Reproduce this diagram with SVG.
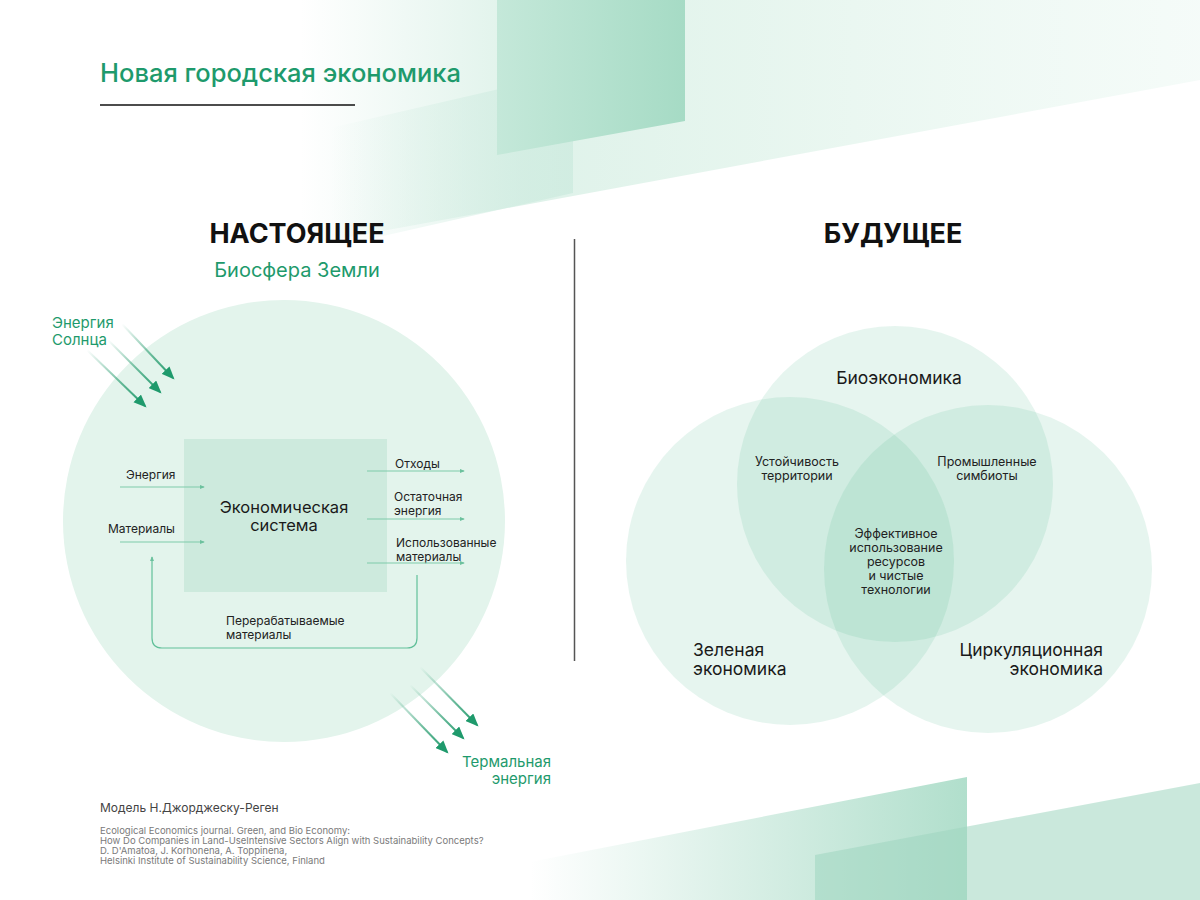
<svg xmlns="http://www.w3.org/2000/svg" width="1200" height="900" viewBox="0 0 1200 900">
<defs>
<style>
text { font-family: Inter, "Open Sans", "Noto Sans", sans-serif; }
.green { fill: #1e9a6c; }
.lbl { font-size: 12px; fill: #222; }
.venn { font-size: 12.5px; fill: #222; text-anchor: middle; }
.big { font-size: 17.5px; fill: #1a1a1a; }
.head { font-size: 27px; font-weight: 700; fill: #111; text-anchor: middle; }
.cite { font-size: 9.5px; fill: #7a7a7a; }
.thin { stroke: #7fcbaa; stroke-width: 1; fill: none; marker-end: url(#small); }
.ray { stroke: url(#fade); stroke-width: 2; fill: none; marker-end: url(#head); }
.vc { fill: #3fb384; fill-opacity: 0.13; }
</style>
<linearGradient id="fade" x1="0" y1="0" x2="1" y2="1">
<stop offset="0" stop-color="#2a9d70" stop-opacity="0"/>
<stop offset="0.6" stop-color="#2a9d70" stop-opacity="0.7"/>
<stop offset="1" stop-color="#1f9a6c" stop-opacity="1"/>
</linearGradient>
<linearGradient id="gTop" gradientUnits="userSpaceOnUse" x1="300" y1="0" x2="1200" y2="0">
<stop offset="0" stop-color="#d9f0e6" stop-opacity="0"/>
<stop offset="0.25" stop-color="#d9f0e6" stop-opacity="0.85"/>
<stop offset="0.5" stop-color="#e0f3ea" stop-opacity="0.8"/>
<stop offset="1" stop-color="#e6f6ef" stop-opacity="0.4"/>
</linearGradient>
<linearGradient id="gP3" gradientUnits="userSpaceOnUse" x1="330" y1="0" x2="573" y2="0">
<stop offset="0" stop-color="#cdebdf" stop-opacity="0"/>
<stop offset="1" stop-color="#cdebdf" stop-opacity="0.8"/>
</linearGradient>
<linearGradient id="gP2" gradientUnits="userSpaceOnUse" x1="497" y1="0" x2="685" y2="0">
<stop offset="0" stop-color="#c4e8d9"/>
<stop offset="1" stop-color="#a6dbc5"/>
</linearGradient>
<linearGradient id="gB1" gradientUnits="userSpaceOnUse" x1="530" y1="0" x2="967" y2="0">
<stop offset="0" stop-color="#a3d9c3" stop-opacity="0"/>
<stop offset="1" stop-color="#a3d9c3" stop-opacity="0.85"/>
</linearGradient>
<marker id="head" viewBox="0 0 12 10" refX="10" refY="5" markerWidth="13" markerHeight="11" markerUnits="userSpaceOnUse" orient="auto">
<path d="M0,0 L12,5 L0,10 Z" fill="#1f9a6c"/>
</marker>
<marker id="small" viewBox="0 0 6 6" refX="5" refY="3" markerWidth="5" markerHeight="5" markerUnits="userSpaceOnUse" orient="auto">
<path d="M0,0.5 L6,3 L0,5.5 Z" fill="#6cc19d"/>
</marker>
</defs>

<g id="background">
<rect width="1200" height="900" fill="#ffffff"/>
<polygon points="300,0 1200,0 1200,80 497,210 300,246" fill="url(#gTop)"/>
<polygon points="330,128 573,72 573,193 330,248" fill="url(#gP3)"/>
<polygon points="497,0 685,0 685,121 497,155" fill="url(#gP2)"/>
<polygon points="967,777 967,900 530,900 530,862" fill="url(#gB1)"/>
<polygon points="815,855 1200,783 1200,900 815,900" fill="#9ed6c0" fill-opacity="0.55"/>
</g>

<g id="title">
<text x="100" y="82" class="green" style="font-size:25.5px;font-weight:500">Новая городская экономика</text>
<line x1="100" y1="105" x2="355" y2="105" stroke="#111" stroke-width="1.5"/>
</g>

<line id="divider" x1="574.5" y1="239" x2="574.5" y2="661" stroke="#555" stroke-width="1.5"/>

<g id="present-header">
<text x="297" y="243" class="head">НАСТОЯЩЕЕ</text>
<text x="297" y="277" class="green" text-anchor="middle" style="font-size:20px">Биосфера Земли</text>
</g>

<g id="biosphere">
<circle cx="284" cy="521" r="221" fill="#e3f4ec"/>
</g>

<g id="economic-system">
<rect x="184" y="439" width="203" height="153" fill="#cdeadd"/>
<text x="284" y="513" class="big" text-anchor="middle" style="font-size:16.5px">Экономическая</text>
<text x="284" y="531" class="big" text-anchor="middle" style="font-size:16.5px">система</text>
</g>

<g id="labels-in">
<text x="126" y="479" class="lbl">Энергия</text>
<text x="108" y="533" class="lbl">Материалы</text>
</g>

<g id="labels-out">
<text x="395" y="468" class="lbl">Отходы</text>
<text x="394" y="501" class="lbl">Остаточная</text>
<text x="394" y="515" class="lbl">энергия</text>
<text x="396" y="547" class="lbl">Использованные</text>
<text x="396" y="561" class="lbl">материалы</text>
<text x="226" y="625" class="lbl">Перерабатываемые</text>
<text x="226" y="639" class="lbl">материалы</text>
</g>

<g id="sun">
<text x="52" y="328" class="green" style="font-size:15px">Энергия</text>
<text x="52" y="345" class="green" style="font-size:15px">Солнца</text>
</g>

<g id="thermal">
<text x="551" y="767" class="green" text-anchor="end" style="font-size:15px">Термальная</text>
<text x="551" y="784" class="green" text-anchor="end" style="font-size:15px">энергия</text>
</g>

<g id="connectors">
<line x1="120" y1="487" x2="204" y2="487" class="thin"/>
<line x1="120" y1="542" x2="204" y2="542" class="thin"/>
<line x1="367" y1="471" x2="464" y2="471" class="thin"/>
<line x1="367" y1="519" x2="464" y2="519" class="thin"/>
<line x1="367" y1="563" x2="464" y2="563" class="thin"/>
<path d="M417,575 V638 Q417,648 407,648 H162 Q152,648 152,638 V557" stroke="#62c09a" stroke-width="1.2" fill="none" marker-end="url(#small)"/>
<line x1="122" y1="324" x2="173" y2="378" class="ray"/>
<line x1="108" y1="340" x2="160" y2="392" class="ray"/>
<line x1="87" y1="350" x2="145" y2="406" class="ray"/>
<line x1="420" y1="667" x2="477" y2="725" class="ray"/>
<line x1="410" y1="685" x2="463" y2="738" class="ray"/>
<line x1="390" y1="693" x2="447" y2="752" class="ray"/>
</g>

<g id="footer">
<text x="100" y="812" style="font-size:12px;fill:#444">Модель Н.Джорджеску-Реген</text>
<text x="100" y="834" class="cite">Ecological Economics journal. Green, and Bio Economy:</text>
<text x="100" y="844" class="cite">How Do Companies in Land-UseIntensive Sectors Align with Sustainability Concepts?</text>
<text x="100" y="854" class="cite">D. D'Amatoa, J. Korhonena, A. Toppinena,</text>
<text x="100" y="864" class="cite">Helsinki Institute of Sustainability Science, Finland</text>
</g>

<g id="future-header">
<text x="893" y="243" class="head">БУДУЩЕЕ</text>
</g>

<g id="bioeconomy">
<circle cx="895" cy="484" r="158" class="vc"/>
<text x="899" y="384" class="big" text-anchor="middle">Биоэкономика</text>
</g>
<g id="green-economy">
<circle cx="790" cy="561" r="164" class="vc"/>
<text x="693" y="656" class="big">Зеленая</text>
<text x="693" y="675" class="big">экономика</text>
</g>
<g id="circular-economy">
<circle cx="988" cy="569" r="164" class="vc"/>
<text x="1103" y="656" class="big" text-anchor="end">Циркуляционная</text>
<text x="1103" y="675" class="big" text-anchor="end">экономика</text>
</g>
<g id="overlap-labels">
<text x="797" y="466" class="venn">Устойчивость</text>
<text x="797" y="480" class="venn">территории</text>
<text x="987" y="466" class="venn">Промышленные</text>
<text x="987" y="480" class="venn">симбиоты</text>
<text x="896" y="538" class="venn">Эффективное</text>
<text x="896" y="552" class="venn">использование</text>
<text x="896" y="566" class="venn">ресурсов</text>
<text x="896" y="580" class="venn">и чистые</text>
<text x="896" y="594" class="venn">технологии</text>
</g>
</svg>
